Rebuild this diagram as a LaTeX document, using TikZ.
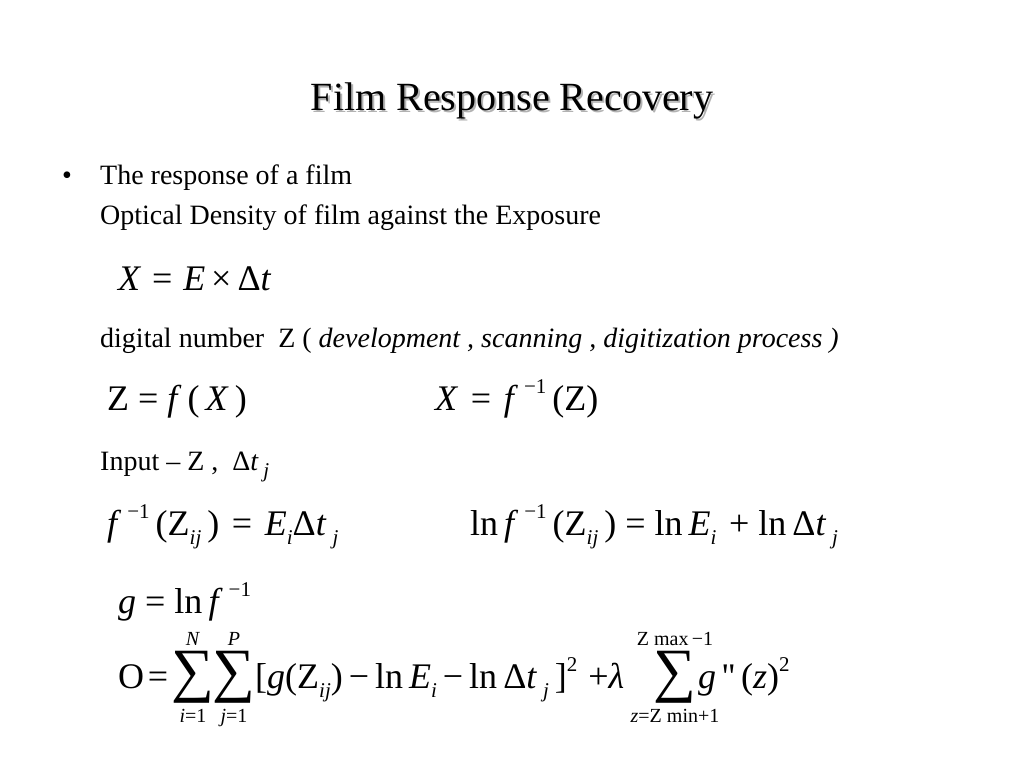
\documentclass[tikz,border=0pt]{standalone}
\usepackage{fontspec}
\setmainfont{Liberation Serif}
\usepackage{tikz}
\usetikzlibrary{positioning}

\newcommand{\eqsup}[1]{\raisebox{0.45em}{\fontsize{21bp}{21bp}\selectfont #1}}
\newcommand{\eqsub}[1]{\raisebox{-0.25em}{\fontsize{21bp}{21bp}\selectfont\itshape #1}}
\newcommand{\vr}[1]{\textit{#1}}

\tikzset{
  titletext/.style={font=\fontsize{40bp}{48bp}\selectfont, anchor=base, inner sep=0pt},
  bodytext/.style={font=\fontsize{28bp}{34bp}\selectfont, anchor=base west, inner sep=0pt},
  eqtext/.style={font=\fontsize{36bp}{42bp}\selectfont, anchor=base west, inner sep=0pt},
  limtext/.style={font=\fontsize{20bp}{22bp}\selectfont, anchor=base, inner sep=0pt},
  bigsum/.style={font=\fontsize{60bp}{60bp}\selectfont, anchor=base, inner sep=0pt}
}

\begin{document}
\begin{tikzpicture}[x=1bp, y=-1bp]
  \useasboundingbox[fill=white] (0,0) rectangle (1024,768);

  % title with shadow
  \node[titletext, text=black!30] (titleshadow) at (514,112) {Film Response Recovery};
  \node[titletext] (title) at (512,110) {Film Response Recovery};

  % bullet text
  \node[bodytext] (bullet) at (62,184) {•};
  \node[bodytext] (response) at (100,184) {The response of a film};
  \node[bodytext] (density) at (100,224) {Optical Density of film against the Exposure};

  \node[eqtext] (exposure) at (118,290) {\vr{X}\hspace{0.3em}=\hspace{0.3em}\vr{E}\,×\,Δ\vr{t}};

  \node[bodytext] (digital) at (100,347) {digital number\hspace{0.5em}Z ( \textit{development , scanning , digitization process )}};

  \node[eqtext] (forward) at (107,410) {Z\hspace{0.25em}=\hspace{0.25em}\vr{f}\,(\,\vr{X}\,)};
  \node[eqtext] (inverse) at (435,410) {\vr{X}\hspace{0.35em}=\hspace{0.35em}\vr{f}\,\eqsup{−1}\,(Z)};

  \node[bodytext] (input) at (100,470) {Input – Z ,\hspace{0.5em}Δ\vr{t}\,\eqsub{j}};

  \node[eqtext] (recovery) at (107,535) {\vr{f}\,\eqsup{−1}\,(Z\eqsub{ij}\,)\hspace{0.35em}=\hspace{0.35em}\vr{E}\eqsub{i}Δ\vr{t}\,\eqsub{j}};
  \node[eqtext] (logform) at (470,535) {ln\,\vr{f}\,\eqsup{−1}\,(Z\eqsub{ij}\,)\hspace{0.25em}=\hspace{0.25em}ln\,\vr{E}\eqsub{i}\hspace{0.35em}+\hspace{0.25em}ln\,Δ\vr{t}\,\eqsub{j}};

  \node[eqtext] (gdef) at (118,613) {\vr{g}\hspace{0.25em}=\hspace{0.25em}ln\,\vr{f}\,\eqsup{−1}};

  % objective function
  \node[eqtext] (objective) at (118,688) {O\hspace{0.1em}=};
  \node[bigsum] (sumi) at (193,690) {∑};
  \node[bigsum] (sumj) at (234,690) {∑};
  \node[limtext] (upN) at (193,645) {\vr{N}};
  \node[limtext] (upP) at (234,645) {\vr{P}};
  \node[limtext] (lowi) at (193,722) {\vr{i}=1};
  \node[limtext] (lowj) at (234,722) {\vr{j}=1};
  \node[eqtext] (datafit) at (255,688) {[\vr{g}(Z\eqsub{ij})\,−\,ln\,\vr{E}\eqsub{i}\,−\,ln\,Δ\vr{t}\,\eqsub{j}\,]\eqsup{2}\hspace{0.3em}+\vr{λ}};
  \node[bigsum] (sumz) at (675,690) {∑};
  \node[limtext] (upZ) at (675,645) {Z max\,−1};
  \node[limtext] (lowz) at (675,722) {\vr{z}=Z min+1};
  \node[eqtext] (smooth) at (698,688) {\vr{g}\,\textquotesingle\textquotesingle\,(\vr{z})\eqsup{2}};
\end{tikzpicture}
\end{document}
